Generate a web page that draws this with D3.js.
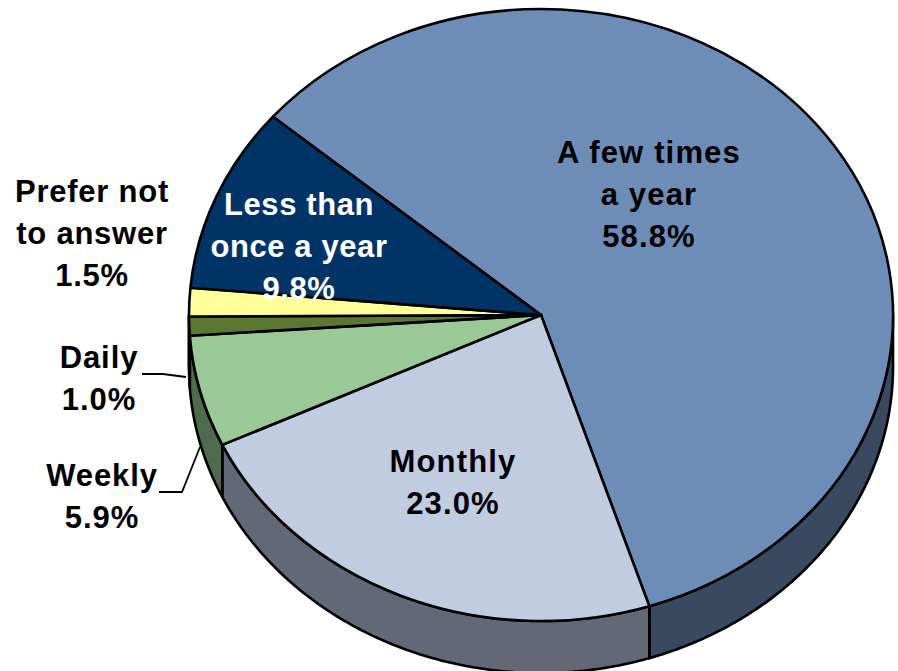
<!DOCTYPE html>
<html><head><meta charset="utf-8">
<script src="https://cdn.jsdelivr.net/npm/d3@7/dist/d3.min.js"></script>
<style>html,body{margin:0;padding:0;background:#fff}svg{display:block}
text{font-family:"Liberation Sans",Arial,sans-serif;font-weight:bold;font-size:31px;text-anchor:middle}</style>
</head><body><svg id="c" width="898" height="671"></svg>
<script>
const categories = ["A few times a year","Monthly","Weekly","Daily","Prefer not to answer","Less than once a year"];
const values = [58.8,23.0,5.9,1.0,1.5,9.8];
const topColors = ["#6d8cb8","#c1cce0","#9ac997","#5c7732","#ffff99","#003366"];
const sideColors = ["#39495f","#626875","#4f6b4f","#2f3f1c","#8a8a50","#001a33"];
const labelLines = [["A few times","a year","58.8%"],["Monthly","23.0%"],["Weekly","5.9%"],["Daily","1.0%"],["Prefer not","to answer","1.5%"],["Less than","once a year","9.8%"]];

const W=898,H=671,cx=541,cy=315,rx=352,ry=306,depth=52;
const rad=d=>d*Math.PI/180;
const svg=d3.select("#c");
const arcs=d3.pie().sort(null).value(d=>d).startAngle(rad(-49.6)).endAngle(rad(310.4))(values);
const px=t=>cx+rx*Math.sin(t), py=t=>cy-ry*Math.cos(t);
const line=d3.line();

// walls (visible only in the front half of the ellipse)
const wallG=svg.append("g");
arcs.forEach((a,i)=>{
  const s=Math.max(a.startAngle,Math.PI/2), e=Math.min(a.endAngle,Math.PI*1.5);
  if(e<=s) return;
  const n=Math.max(2,Math.ceil((e-s)/0.01));
  const ts=d3.range(n+1).map(k=>s+(e-s)*k/n);
  const pts=ts.map(t=>[px(t),py(t)]).concat(ts.slice().reverse().map(t=>[px(t),py(t)+depth]));
  wallG.append("path").attr("d",line(pts)+"Z").attr("fill",sideColors[i])
    .attr("stroke","#000").attr("stroke-width",2.6).attr("stroke-linejoin","round");
});

// top face
const arc=d3.arc().innerRadius(0).outerRadius(rx);
svg.append("g").attr("transform",`translate(${cx},${cy}) scale(1,${ry/rx})`)
  .selectAll("path").data(arcs).join("path")
  .attr("d",arc).attr("fill",(d,i)=>topColors[i])
  .attr("stroke","#000").attr("stroke-width",2.6).attr("stroke-linejoin","round")
  .attr("vector-effect","non-scaling-stroke");

// leader lines
const leaders=[[[142,374],[163,374],[186,377]],[[159,492],[182,492],[200,447]]];
svg.append("g").selectAll("path").data(leaders).join("path")
  .attr("d",d=>line(d)).attr("fill","none").attr("stroke","#000").attr("stroke-width",1.8);

// labels
const labelPos=[[649,163],[453,472],[102,486],[99,368],[92,202],[299,215]];
const labelFill=["#000","#000","#000","#000","#000","#fff"];
const labelSpacing=[1.15,1.15,0.9,0.9,0.75,0.6];
const lh=42;
labelLines.forEach((ls,i)=>{
  const t=svg.append("text").attr("fill",labelFill[i]).attr("letter-spacing",labelSpacing[i]);
  ls.forEach((s,k)=>t.append("tspan").attr("x",labelPos[i][0]).attr("y",labelPos[i][1]+k*lh).text(s));
});
</script></body></html>
